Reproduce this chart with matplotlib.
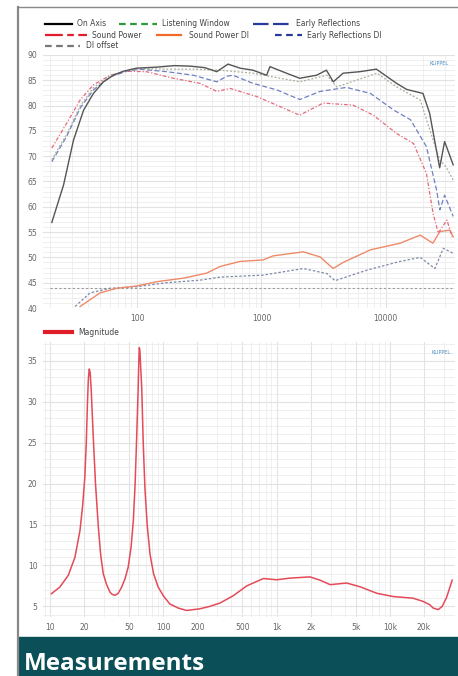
import numpy as np
import matplotlib
matplotlib.use('Agg')
import matplotlib.pyplot as plt
from matplotlib.lines import Line2D
from matplotlib.ticker import FixedLocator, NullFormatter

# --- spinorama data (Hz, dB) ---
on_axis_f = [20.6, 25.6, 30.8, 37.1, 44.5, 53.6, 64.5, 77.6, 99, 144, 200, 266, 350, 437, 538, 672, 853, 1100, 1170,
             1590, 2030, 2770, 3330, 3780, 4530, 6170, 8400, 12200, 14700, 19900, 22500, 27100, 29700, 34800]
on_axis_db = [56.9, 64.3, 73.2, 79.1, 82.4, 84.7, 86.0, 86.8, 87.4, 87.6, 87.9, 87.8, 87.5, 86.7, 88.2, 87.4, 87.0, 86.0, 87.7,
              86.4, 85.4, 86.0, 87.0, 84.7, 86.4, 86.7, 87.2, 84.4, 83.2, 82.4, 78.5, 67.7, 72.9, 68.3]

lw_f = [20.6, 27.1, 34.8, 44.5, 60.7, 82.6, 105, 173, 284, 464, 853, 2030, 3360, 4030, 8500, 12200,
        18900, 24000, 27200, 30500, 34800]
lw_db = [69.3, 74.3, 79.9, 83.5, 86.0, 86.9, 87.3, 87.2, 87.2, 87.0, 86.4, 84.7, 86.0, 83.7, 86.4, 83.7,
         81.1, 73.2, 69.2, 67.9, 65.3]

er_f = [20.6, 27.1, 34.8, 44.5, 60.7, 82.6, 105, 173, 284, 437, 525, 590, 853, 1330, 2030, 2960, 4830,
        7530, 11600, 15800, 21200, 25600, 27200, 29700, 34800]
er_db = [68.9, 73.9, 79.5, 83.1, 85.7, 86.8, 87.2, 86.7, 86.0, 84.7, 85.8, 86.0, 84.4, 83.1, 81.2, 82.8, 83.6,
         82.4, 79.1, 77.2, 71.9, 63.3, 59.4, 62.3, 58.1]

sp_f = [20.6, 27.1, 34.8, 44.5, 60.7, 82.6, 119, 196, 321, 437, 558, 915, 1410, 2030, 3130, 5440, 7940,
        12200, 16700, 21200, 24000, 26400, 31000, 34100]
sp_db = [71.6, 76.5, 81.1, 84.1, 86.0, 86.8, 86.7, 85.4, 84.4, 82.8, 83.4, 81.8, 79.8, 78.1, 80.5, 80.1, 78.1,
         74.5, 72.5, 66.6, 58.7, 54.8, 57.4, 54.1]

spdi_f = [34.8, 50.4, 68.6, 99, 144, 236, 363, 464, 672, 1030, 1240, 2170, 2960, 3770, 4530, 7530, 13000,
          18900, 23900, 27200, 32700, 34800]
spdi_db = [40.3, 43.0, 43.9, 44.35, 45.2, 45.9, 46.9, 48.2, 49.2, 49.5, 50.3, 51.1, 50.1, 47.8, 49.0, 51.5, 52.8,
           54.4, 52.8, 55.1, 55.4, 54.1]

erdi_f = [31.7, 41.9, 60.7, 99, 173, 321, 464, 1030, 2170, 3360, 3900, 7080, 13000, 18900, 24800, 29000, 34800]
erdi_db = [40.3, 43.0, 43.9, 44.2, 45.0, 45.5, 46.1, 46.5, 47.8, 46.8, 45.4, 47.5, 49.2, 50.0, 47.8, 51.8, 50.8]

di_offset_f = [20, 34000]
di_offset_db = [44.0, 44.0]

# --- impedance data (Hz, ohm) ---
imp_f = [10.3, 12.2, 14.5, 16.6, 18.4, 19.4, 20.3, 20.9, 21.4, 21.8, 22.2, 22.6, 23.1, 23.6, 24.1, 25.2,
         26.7, 28.0, 29.5, 31.5, 33.8, 35.5, 37.5, 40.0, 42.9, 46.0, 49.0, 52.0, 54.4, 56.4, 58.2, 59.8,
         60.8, 61.4, 62.1, 63.0, 64.5, 66.5, 68.8, 72.0, 76.3, 82.0, 90.2, 100, 114, 135, 160, 210, 258,
         316, 415, 545, 764, 1000, 1310, 1970, 2420, 2970, 4160, 5440, 7660, 10700, 16000, 19700, 22500,
         24100, 26700, 29000, 31700, 35500]
imp_ohm = [6.55, 7.35, 8.8, 11.0, 14.3, 17.3, 20.8, 25.0, 29.8, 32.8, 34.0, 33.6, 31.5, 28.5, 25.6, 20.0,
           14.7, 11.3, 9.0, 7.7, 6.75, 6.45, 6.35, 6.6, 7.35, 8.4, 9.8, 12.3, 15.5, 20.0, 25.6, 31.0,
           35.0, 36.6, 36.3, 34.5, 31.7, 25.0, 19.5, 15.0, 11.4, 9.0, 7.35, 6.3, 5.3, 4.8, 4.5, 4.7, 5.0,
           5.4, 6.3, 7.5, 8.4, 8.25, 8.45, 8.6, 8.2, 7.65, 7.85, 7.4, 6.6, 6.2, 6.0, 5.6, 5.2,
           4.8, 4.6, 5.0, 6.1, 8.2]

top_ticks = [100, 1000, 10000]
top_ticklabels = ['100', '1000', '10000']
bot_ticks = [10, 20, 50, 100, 200, 500, 1000, 2000, 5000, 10000, 20000]
bot_ticklabels = ['10', '20', '50', '100', '200', '500', '1k', '2k', '5k', '10k', '20k']

W, H = 458, 676
fig = plt.figure(figsize=(W / 100, H / 100), dpi=100)
fig.patch.set_facecolor('white')


def px(x, y):
    return x / W, 1 - y / H


def minor_freqs(lo, hi):
    out = []
    for d in range(0, 6):
        for m in range(1, 10):
            v = m * 10 ** d
            if lo <= v <= hi:
                out.append(v)
    return out


def style_ax(ax, xlo, xhi):
    ax.set_xscale('log')
    ax.set_xlim(xlo, xhi)
    for s in ax.spines.values():
        s.set_visible(False)
    ax.xaxis.set_minor_locator(FixedLocator(minor_freqs(xlo, xhi)))
    ax.xaxis.set_minor_formatter(NullFormatter())
    ax.grid(True, which='major', color='#e2e2e2', lw=0.8)
    ax.grid(True, which='minor', color='#ececec', lw=0.6)
    ax.tick_params(which='both', length=0, labelsize=5.5, labelcolor='#666666', pad=4)
    ax.set_axisbelow(True)


# ---------- top: spinorama ----------
l, b = px(43, 308)
r, t = px(455, 55)
ax1 = fig.add_axes([l, b, r - l, t - b])
style_ax(ax1, 17.5, 36000)
ax1.set_ylim(40, 90)
ax1.set_yticks(np.arange(40, 91, 5))
ax1.yaxis.set_minor_locator(FixedLocator(np.arange(40, 91, 1)))
ax1.set_xticks(top_ticks)
ax1.set_xticklabels(top_ticklabels)

ax1.plot(di_offset_f, di_offset_db, color='#9a9a9a', lw=0.8, ls=(0, (2, 2)))
ax1.plot(erdi_f, erdi_db, color='#7f8aa8', lw=0.9, ls=(0, (2, 1.5)))
ax1.plot(spdi_f, spdi_db, color='#ef8a68', lw=1.0)
ax1.plot(sp_f, sp_db, color='#e86878', lw=0.9, ls=(0, (3, 1.5, 1, 1.5)))
ax1.plot(er_f, er_db, color='#7080c0', lw=0.9, ls=(0, (4, 2)))
ax1.plot(lw_f, lw_db, color='#a8ae98', lw=0.9, ls=(0, (1.5, 1.5)))
ax1.plot(on_axis_f, on_axis_db, color='#555555', lw=1.0)
ax1.text(0.985, 0.975, 'KLIPPEL', transform=ax1.transAxes, ha='right', va='top',
         fontsize=3.5, color='#4a8cc0')

# legend (top)
leg_items = [
    # (x0, x1, y, text_x, label, color, linestyle)
    (45, 72, 24, 77, 'On Axis', 'black', '-'),
    (119, 157, 24, 162, 'Listening Window', '#2e9a3a', (0, (3, 2))),
    (253, 290, 24, 296, 'Early Reflections', '#2a3a9a', (0, (7, 2))),
    (45, 87, 35, 92, 'Sound Power', '#e01e2a', (0, (8, 2, 3, 2))),
    (157, 181, 35, 189, 'Sound Power DI', '#f06a2a', '-'),
    (275, 302, 35, 307, 'Early Reflections DI', '#2a3a9a', (0, (3, 2))),
    (45, 80, 46, 86, 'DI offset', '#777777', (0, (3, 2))),
]
for x0, x1, y, tx, lab, c, ls in leg_items:
    (fx0, fy), (fx1, _) = px(x0, y), px(x1, y)
    fig.add_artist(Line2D([fx0, fx1], [fy, fy], color=c, lw=1.6, ls=ls, transform=fig.transFigure))
    fig.text(*px(tx, y), lab, fontsize=5.5, color='#444444', va='center', ha='left')

# ---------- bottom: impedance ----------
l, b = px(43, 617)
r, t = px(455, 342)
ax2 = fig.add_axes([l, b, r - l, t - b])
style_ax(ax2, 8.67, 37600)
ax2.set_ylim(3.7, 37.3)
ax2.set_yticks(np.arange(5, 36, 5))
ax2.yaxis.set_minor_locator(FixedLocator(np.arange(4, 38, 1)))
ax2.set_xticks(bot_ticks)
ax2.set_xticklabels(bot_ticklabels)
ax2.plot(imp_f, imp_ohm, color='#e44a58', lw=1.1)
ax2.text(0.99, 0.97, 'KLIPPEL', transform=ax2.transAxes, ha='right', va='top',
         fontsize=3.5, color='#4a8cc0')

(fx0, fy), (fx1, _) = px(45, 332), px(72, 332)
fig.add_artist(Line2D([fx0, fx1], [fy, fy], color='#e01e2a', lw=3, transform=fig.transFigure))
fig.text(*px(78, 332), 'Magnitude', fontsize=5.5, color='#444444', va='center', ha='left')

# page frame
fig.add_artist(Line2D([18 / W, 1], [1 - 6.5 / H, 1 - 6.5 / H], color='#888888', lw=1.0,
                      transform=fig.transFigure))
fig.add_artist(Line2D([18 / W, 18 / W], [1 - 6.5 / H, 0], color='#888888', lw=1.6,
                      transform=fig.transFigure))

# banner
bl, bb = px(18, 676)
br, bt = px(458, 637)
fig.add_artist(plt.Rectangle((bl, bb), br - bl, bt - bb, color='#0b4f58', transform=fig.transFigure))
fig.text(*px(24, 670), 'Measurements', fontsize=17.5, fontweight='bold', color='white',
         family='Open Sans', va='baseline', ha='left')

fig.savefig('out.png', dpi=100)
